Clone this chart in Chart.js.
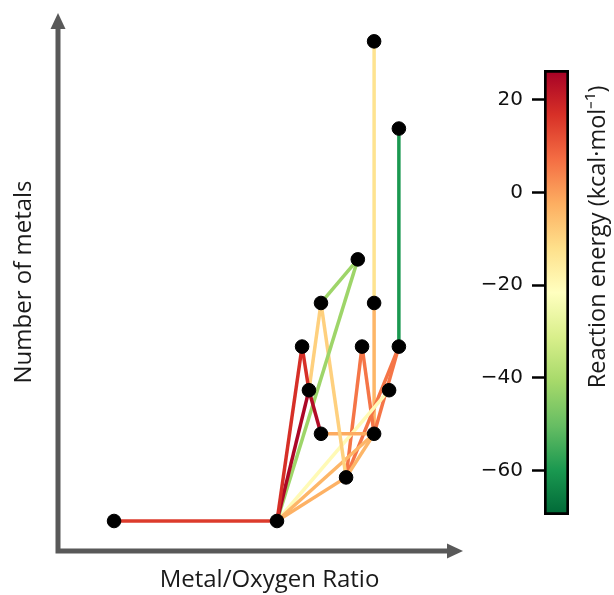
<!DOCTYPE html>
<html lang="en">
<head>
<meta charset="UTF-8">
<title>Reaction network</title>
<script src="https://cdn.jsdelivr.net/npm/chart.js@4.4.0/dist/chart.umd.min.js"></script>
<style>
  body { margin: 0; background: #fff; }
  #wrap { position: relative; width: 614px; height: 595px; }
  canvas { position: absolute; top: 0; }
</style>
</head>
<body>
<div id="wrap">
  <canvas id="netChart" width="500" height="595" style="left:0"></canvas>
  <canvas id="barChart" width="134" height="595" style="left:480px"></canvas>
</div>
<script>
// nodes: metal/oxygen ratio vs number of metals
const nodeNames = ['A', 'B', 'C', 'D', 'E', 'F', 'G', 'H', 'I', 'J', 'K', 'L', 'M', 'N', 'O'];
const nodeX = [0.5, 1.0, 1.077, 1.098, 1.135, 1.135, 1.248, 1.212, 1.261, 1.298, 1.298, 1.344, 1.374, 1.298, 1.374];
const nodeY = [1, 1, 5, 4, 3, 6, 7, 2, 5, 6, 3, 4, 5, 12, 10];

// edges and their reaction energies (kcal/mol)
const edgeFrom = ['A', 'B', 'C', 'B', 'D', 'B', 'G', 'F', 'F', 'E', 'B', 'B', 'H', 'B', 'H', 'I', 'H', 'K', 'J', 'J', 'M'];
const edgeTo   = ['B', 'C', 'D', 'D', 'E', 'G', 'F', 'D', 'H', 'K', 'H', 'K', 'K', 'L', 'I', 'K', 'M', 'M', 'K', 'N', 'O'];
const edgeEnergy = [15, 17, 17, 25, 24, -42, -42, -9, -9, -2, -3, -4, -4, -20, 6, 6, 6, 6, -4, -13, -60];

const energyMin = -69.6;
const energyMax = 26.4;
const cbTicks = [-60, -40, -20, 0, 20];

// RdYlGn reversed
const cmapStops = ['#006837', '#1a9850', '#66bd63', '#a6d96a', '#d9ef8b', '#ffffbf',
                   '#fee08b', '#fdae61', '#f46d43', '#d73027', '#a50026'];

function hexRgb(h) {
  return [parseInt(h.slice(1, 3), 16), parseInt(h.slice(3, 5), 16), parseInt(h.slice(5, 7), 16)];
}

function energyColor(v) {
  let t = (v - energyMin) / (energyMax - energyMin);
  t = Math.max(0, Math.min(1, t)) * (cmapStops.length - 1);
  const i = Math.min(Math.floor(t), cmapStops.length - 2);
  const f = t - i;
  const a = hexRgb(cmapStops[i]), b = hexRgb(cmapStops[i + 1]);
  const c = a.map((x, k) => Math.round(x + (b[k] - x) * f));
  return 'rgb(' + c.join(',') + ')';
}

function pt(name) {
  const i = nodeNames.indexOf(name);
  return { x: nodeX[i], y: nodeY[i] };
}

const edgeSets = edgeFrom.map((f, i) => ({
  data: [pt(f), pt(edgeTo[i])],
  showLine: true,
  borderColor: energyColor(edgeEnergy[i]),
  borderWidth: 3.5,
  pointRadius: 0,
  order: 1
}));

const nodeSet = {
  data: nodeNames.map(pt),
  backgroundColor: '#000',
  borderColor: '#000',
  pointRadius: 6.8,
  order: 0
};

// grey axes with arrow heads (x arrow stops short of the plot edge so the title sits where it should)
const arrowAxes = {
  id: 'arrowAxes',
  afterDraw(chart) {
    const { ctx, chartArea: { left, right, top, bottom } } = chart;
    const xEnd = right - 18;
    ctx.save();
    ctx.strokeStyle = '#595959';
    ctx.fillStyle = '#595959';
    ctx.lineWidth = 5;
    ctx.beginPath();
    ctx.moveTo(left, top + 14);
    ctx.lineTo(left, bottom);
    ctx.lineTo(xEnd - 14, bottom);
    ctx.stroke();
    ctx.beginPath();
    ctx.moveTo(left, top);
    ctx.lineTo(left - 7.5, top + 16);
    ctx.lineTo(left + 7.5, top + 16);
    ctx.closePath();
    ctx.fill();
    ctx.beginPath();
    ctx.moveTo(xEnd, bottom);
    ctx.lineTo(xEnd - 16, bottom - 7.5);
    ctx.lineTo(xEnd - 16, bottom + 7.5);
    ctx.closePath();
    ctx.fill();
    ctx.restore();
  }
};

const titleFont = { family: 'Open Sans', size: 24 };

new Chart(document.getElementById('netChart'), {
  type: 'scatter',
  data: { datasets: [nodeSet, ...edgeSets] },
  options: {
    responsive: false,
    animation: false,
    layout: { padding: { left: 0, top: 13, right: 19, bottom: 0 } },
    plugins: { legend: { display: false }, tooltip: { enabled: false } },
    scales: {
      x: {
        min: 0.328, max: 1.626,
        grid: { display: false, drawTicks: false },
        border: { display: false },
        ticks: { display: false },
        title: { display: true, text: 'Metal/Oxygen Ratio', font: titleFont, color: '#1a1a1a', padding: { top: 15.2, bottom: 0 } }
      },
      y: {
        min: 0.312, max: 12.65,
        grid: { display: false, drawTicks: false },
        border: { display: false },
        ticks: { display: false },
        title: { display: true, text: 'Number of metals', font: titleFont, color: '#1a1a1a', padding: { top: 9.6, bottom: 19.6 } }
      }
    }
  },
  plugins: [arrowAxes]
});

// colorbar label
const cbLabel = {
  id: 'cbLabel',
  afterDraw(chart) {
    const { ctx } = chart;
    ctx.save();
    ctx.translate(118, 237);
    ctx.rotate(-Math.PI / 2);
    ctx.font = '23.5px "Open Sans"';
    ctx.fillStyle = '#1a1a1a';
    ctx.textAlign = 'center';
    ctx.textBaseline = 'middle';
    ctx.fillText('Reaction energy (kcal\u00b7mol\u207b\u00b9)', 0, 0);
    ctx.restore();
  }
};

new Chart(document.getElementById('barChart'), {
  type: 'bar',
  data: {
    labels: [''],
    datasets: [{
      data: [[energyMin, energyMax]],
      backgroundColor: (c) => {
        const { ctx, chartArea } = c.chart;
        if (!chartArea) return null;
        const g = ctx.createLinearGradient(0, chartArea.bottom, 0, chartArea.top);
        cmapStops.forEach((col, i) => g.addColorStop(i / (cmapStops.length - 1), col));
        return g;
      },
      borderColor: '#000',
      borderWidth: 3,
      borderSkipped: false,
      barPercentage: 1,
      categoryPercentage: 1
    }]
  },
  options: {
    responsive: false,
    animation: false,
    layout: { padding: { left: 0, top: 70, right: 45, bottom: 80 } },
    plugins: { legend: { display: false }, tooltip: { enabled: false } },
    scales: {
      x: { display: false },
      y: {
        min: energyMin, max: energyMax,
        afterFit(s) { s.width = 64; },
        afterBuildTicks(s) { s.ticks = cbTicks.map(v => ({ value: v })); },
        grid: { drawOnChartArea: false, drawTicks: true, tickLength: 12, tickWidth: 2.5, tickColor: '#000' },
        border: { display: false },
        ticks: {
          padding: 9,
          color: '#111',
          font: { family: 'DejaVu Sans', size: 20 },
          callback: v => v < 0 ? '\u2212' + Math.abs(v) : String(v)
        }
      }
    }
  },
  plugins: [cbLabel]
});
</script>
</body>
</html>
